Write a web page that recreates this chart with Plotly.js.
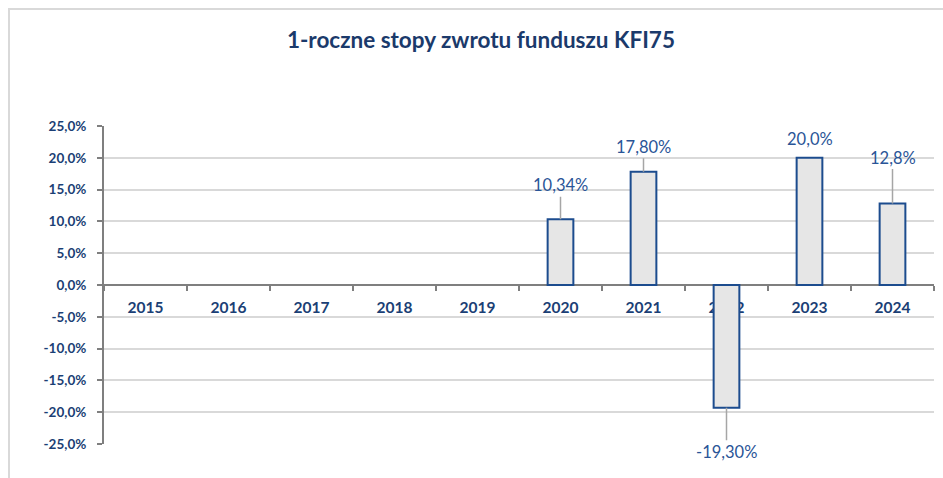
<!DOCTYPE html>
<html>
<head>
<meta charset="utf-8">
<script src="https://cdn.plot.ly/plotly-3.0.1.min.js"></script>
<style>
html,body{margin:0;padding:0;background:#fff;}
#wrap{position:relative;width:943px;height:478px;overflow:hidden;}
#chart{position:absolute;left:0;top:0;width:943px;height:478px;}
#frame{position:absolute;left:8px;top:8px;width:1000px;height:600px;border-left:2px solid #D9D9D9;border-top:2px solid #D9D9D9;pointer-events:none;}
</style>
</head>
<body>
<div id="wrap"><div id="chart"></div><div id="frame"></div></div>
<script>
// Data
const years = ['2015','2016','2017','2018','2019','2020','2021','2022','2023','2024'];
const returns = [null, null, null, null, null, 10.34, 17.80, -19.30, 20.0, 12.8];
const valueLabels = ['', '', '', '', '', '10,34%', '17,80%', '-19,30%', '20,0%', '12,8%'];
const yTickVals = [-25, -20, -15, -10, -5, 0, 5, 10, 15, 20, 25];
const yTickText = ['-25,0%', '-20,0%', '-15,0%', '-10,0%', '-5,0%', '0,0%', '5,0%', '10,0%', '15,0%', '20,0%', '25,0%'];
const chartTitle = '1-roczne stopy zwrotu funduszu KFI75';

const FONT = 'Lato, "Open Sans", sans-serif';
const labelOffsets = {'2020': -34, '2021': -25, '2022': 44, '2023': null, '2024': -46};

const annotations = [];
years.forEach((yr, i) => {
  if (returns[i] === null) return;
  const off = labelOffsets[yr];
  const base = {
    x: i, y: returns[i], xref: 'x', yref: 'y', text: valueLabels[i],
    font: {family: FONT, size: 16.5, color: '#2A5597'}
  };
  if (off === null) {
    annotations.push(Object.assign(base, {showarrow: false, yanchor: 'middle', yshift: 19}));
  } else {
    annotations.push(Object.assign(base, {
      showarrow: true, arrowhead: 0, arrowwidth: 1.5, arrowcolor: '#A6A6A6',
      ax: 0, ay: off, standoff: 0, startstandoff: 0
    }));
  }
});

const trace = {
  type: 'bar',
  x: years,
  y: returns,
  width: 0.31,
  marker: {color: '#E6E6E6', line: {color: '#1C4C8E', width: 2}},
  hoverinfo: 'skip'
};

const layout = {
  width: 943, height: 478,
  margin: {l: 104, r: 9, t: 126, b: 34},
  paper_bgcolor: '#ffffff', plot_bgcolor: '#ffffff',
  showlegend: false,
  title: {
    text: '<b>' + chartTitle + '</b>',
    xref: 'container', yref: 'container', x: 0.51, y: 0.916,
    xanchor: 'center', yanchor: 'middle',
    font: {family: FONT, size: 22.5, color: '#1B3A6B'}
  },
  xaxis: {
    type: 'category',
    categoryorder: 'array', categoryarray: years,
    range: [-0.5, years.length - 0.5],
    anchor: 'free', position: 0.5,
    layer: 'below traces',
    showline: true, linecolor: '#7F7F7F', linewidth: 2,
    ticks: 'outside', tickson: 'boundaries', ticklen: 5, tickwidth: 2, tickcolor: '#7F7F7F',
    showgrid: false, zeroline: false,
    tickangle: 0,
    ticklabelstandoff: 8,
    tickfont: {family: FONT, size: 15.5, color: '#1B3F75', weight: 'bold'}
  },
  yaxis: {
    range: [-25, 25],
    autorange: false,
    domain: [0, 1],
    tickvals: yTickVals, ticktext: yTickText,
    showline: true, linecolor: '#7F7F7F', linewidth: 2,
    ticks: 'outside', ticklen: 5, tickwidth: 2, tickcolor: '#7F7F7F',
    showgrid: true, gridcolor: '#D9D9D9', gridwidth: 2,
    zeroline: false,
    ticklabelstandoff: 8,
    tickfont: {family: FONT, size: 13.5, color: '#1B3F75', weight: 'bold'}
  },
  annotations: annotations
};

Plotly.newPlot('chart', [trace], layout, {staticPlot: true, displayModeBar: false});
</script>
</body>
</html>
